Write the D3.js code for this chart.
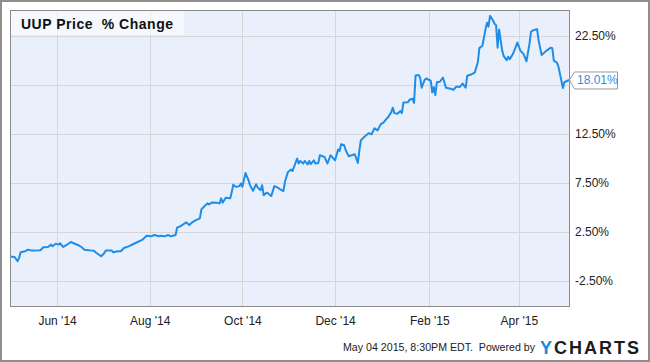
<!DOCTYPE html>
<html>
<head>
<meta charset="utf-8">
<script src="https://cdn.jsdelivr.net/npm/d3@7"></script>
<style>
  html, body { margin: 0; padding: 0; background: #fff; }
  svg { display: block; font-family: "Liberation Sans", Arial, sans-serif; }
</style>
</head>
<body>
<svg id="chart" width="650" height="362"></svg>
<script>
// ---------------- data ----------------
const titleText = "UUP Price\u00a0\u00a0% Change";
const footerText = "May 04 2015, 8:30PM EDT.\u00a0\u00a0Powered by";
const lastLabel = "18.01%";

const dates = [
  "2014-05-01","2014-05-04","2014-05-06","2014-05-07","2014-05-08","2014-05-11","2014-05-13","2014-05-15","2014-05-17","2014-05-21",
  "2014-05-23","2014-05-26","2014-05-28","2014-05-29","2014-05-31","2014-06-02","2014-06-03","2014-06-05","2014-06-07","2014-06-10",
  "2014-06-13","2014-06-15","2014-06-17","2014-06-19","2014-06-22","2014-06-25","2014-06-27","2014-06-30","2014-07-02","2014-07-03",
  "2014-07-07","2014-07-08","2014-07-11","2014-07-13","2014-07-15","2014-07-18","2014-07-21","2014-07-24","2014-07-27","2014-07-30",
  "2014-08-02","2014-08-04","2014-08-07","2014-08-08","2014-08-11","2014-08-13","2014-08-15","2014-08-18","2014-08-19","2014-08-21",
  "2014-08-23","2014-08-25","2014-08-27","2014-08-29","2014-08-31","2014-09-03","2014-09-04","2014-09-05","2014-09-08","2014-09-09",
  "2014-09-11","2014-09-14","2014-09-16","2014-09-17","2014-09-18","2014-09-20","2014-09-23","2014-09-24","2014-09-25","2014-09-26",
  "2014-09-27","2014-09-29","2014-09-30","2014-10-01","2014-10-03","2014-10-05","2014-10-06","2014-10-08","2014-10-10","2014-10-11",
  "2014-10-13","2014-10-14","2014-10-15","2014-10-17","2014-10-18","2014-10-20","2014-10-22","2014-10-24","2014-10-26","2014-10-28",
  "2014-10-29","2014-10-31","2014-11-02","2014-11-03","2014-11-04","2014-11-06","2014-11-07","2014-11-08","2014-11-10","2014-11-11",
  "2014-11-13","2014-11-14","2014-11-15","2014-11-17","2014-11-18","2014-11-20","2014-11-21","2014-11-24","2014-11-26","2014-11-28",
  "2014-11-29","2014-12-01","2014-12-03","2014-12-04","2014-12-05","2014-12-07","2014-12-08","2014-12-10","2014-12-12","2014-12-14",
  "2014-12-16","2014-12-17","2014-12-18","2014-12-20","2014-12-23","2014-12-25","2014-12-27","2014-12-29","2014-12-31","2015-01-02",
  "2015-01-03","2015-01-05","2015-01-07","2015-01-08","2015-01-09","2015-01-11","2015-01-13","2015-01-14","2015-01-15","2015-01-18",
  "2015-01-19","2015-01-21","2015-01-22","2015-01-23","2015-01-25","2015-01-26","2015-01-27","2015-01-29","2015-01-30","2015-02-02",
  "2015-02-03","2015-02-04","2015-02-05","2015-02-06","2015-02-08","2015-02-10","2015-02-12","2015-02-15","2015-02-17","2015-02-19",
  "2015-02-21","2015-02-23","2015-02-24","2015-02-25","2015-02-26","2015-03-01","2015-03-03","2015-03-05","2015-03-06","2015-03-08",
  "2015-03-10","2015-03-11","2015-03-12","2015-03-13","2015-03-15","2015-03-16","2015-03-17","2015-03-18","2015-03-19","2015-03-21",
  "2015-03-22","2015-03-24","2015-03-25","2015-03-26","2015-03-28","2015-03-30","2015-03-31","2015-04-02","2015-04-04","2015-04-06",
  "2015-04-08","2015-04-09","2015-04-11","2015-04-13","2015-04-14","2015-04-16","2015-04-19","2015-04-22","2015-04-23","2015-04-24",
  "2015-04-26","2015-04-27","2015-04-30","2015-05-01","2015-05-04"
];

const pctChange = [
  0.00,-0.05,-0.48,-0.14,0.44,0.54,0.70,0.60,0.60,0.64,
  0.94,0.97,1.21,1.05,1.31,1.21,1.35,0.97,1.15,1.48,
  1.28,1.15,0.97,0.70,0.64,0.60,0.36,0.03,0.33,0.60,
  0.60,0.44,0.54,0.54,0.87,1.03,1.25,1.48,1.69,2.12,
  2.06,2.19,2.06,2.12,2.06,2.19,2.06,2.19,2.94,3.08,
  3.28,3.49,3.21,3.49,3.69,3.89,4.81,4.97,5.42,5.32,
  5.52,5.48,5.42,5.93,5.48,5.99,5.93,6.57,7.33,7.18,
  7.11,7.18,7.45,7.11,8.53,7.79,7.28,6.70,7.38,7.05,
  6.77,7.28,6.26,6.50,6.44,6.16,7.18,7.05,6.84,6.67,
  7.62,8.63,8.88,8.73,9.14,10.00,9.49,9.75,9.49,9.75,
  9.39,9.75,9.42,9.82,9.49,9.55,10.33,10.16,9.49,10.33,
  10.16,9.82,10.91,10.77,11.45,11.35,10.84,10.23,10.33,10.43,
  9.55,10.84,11.86,12.16,12.57,12.47,13.08,12.87,13.48,13.69,
  13.89,14.23,14.73,15.18,14.63,14.57,14.84,14.63,15.72,15.75,
  16.00,16.10,15.67,18.47,18.52,18.26,17.22,18.03,18.16,17.93,
  16.74,17.28,16.46,17.79,17.83,18.26,17.22,17.11,17.01,17.35,
  17.28,17.65,17.42,17.22,18.44,18.60,18.77,19.84,21.26,21.50,
  23.15,23.86,23.45,24.55,24.08,23.74,23.60,21.31,23.15,21.01,
  20.45,20.04,20.38,20.14,20.63,21.42,21.82,21.01,20.67,19.92,
  21.72,22.94,23.11,23.20,22.03,20.55,20.98,21.31,21.26,19.99,
  19.79,19.41,17.18,17.78,18.01
];

const xTickDates = ["2014-06-01","2014-08-01","2014-10-01","2014-12-01","2015-02-01","2015-04-01"];
const yTicks = [-2.5, 2.5, 7.5, 12.5, 17.5, 22.5];
const xDomain = ["2014-05-01","2015-05-04"];
const yDomain = [-5.05, 25.15];

// ---------------- chart ----------------
const parse = d3.timeParse("%Y-%m-%d");
const data = dates.map((d, i) => ({ date: parse(d), value: pctChange[i] }));

const W = 650, H = 362;
const plot = { left: 10, top: 10, right: 569, bottom: 306 };

const svg = d3.select("#chart");

// outer frame
svg.append("rect")
  .attr("x", 1).attr("y", 1).attr("width", W - 2).attr("height", H - 2)
  .attr("fill", "#fff").attr("stroke", "#8e8e8e").attr("stroke-width", 2);

const x = d3.scaleTime().domain(xDomain.map(parse)).range([plot.left, plot.right]);
const y = d3.scaleLinear().domain(yDomain).range([plot.bottom, plot.top]);

// plot background
svg.append("rect")
  .attr("x", plot.left).attr("y", plot.top)
  .attr("width", plot.right - plot.left).attr("height", plot.bottom - plot.top)
  .attr("fill", "#eaf0fb");

// grid
const grid = svg.append("g").attr("stroke", "#d6d6d6").attr("stroke-width", 1);
grid.selectAll("line.h").data(yTicks).join("line")
  .attr("x1", plot.left).attr("x2", plot.right)
  .attr("y1", d => Math.round(y(d)) + 0.5).attr("y2", d => Math.round(y(d)) + 0.5);
grid.selectAll("line.v").data(xTickDates.map(parse)).join("line")
  .attr("y1", plot.top).attr("y2", plot.bottom)
  .attr("x1", d => Math.round(x(d)) + 0.5).attr("x2", d => Math.round(x(d)) + 0.5);

// title box (semi-transparent)
svg.append("rect")
  .attr("x", plot.left).attr("y", plot.top).attr("width", 174).attr("height", 25)
  .attr("fill", "rgba(255,255,255,0.5)");
svg.append("text")
  .attr("x", 21).attr("y", 28.5)
  .attr("font-size", 14).attr("font-weight", "bold").attr("fill", "#111")
  .attr("textLength", 152).attr("lengthAdjust", "spacing")
  .text(titleText);

// line
const line = d3.line().x(d => x(d.date)).y(d => y(d.value));
svg.append("path")
  .datum(data)
  .attr("fill", "none")
  .attr("stroke", "#1f8de8")
  .attr("stroke-width", 2)
  .attr("stroke-linejoin", "round")
  .attr("d", line);

// plot border
svg.append("rect")
  .attr("x", plot.left + 0.5).attr("y", plot.top + 0.5)
  .attr("width", plot.right - plot.left).attr("height", plot.bottom - plot.top)
  .attr("fill", "none").attr("stroke", "#8a8a8a").attr("stroke-width", 1);

// last value marker position
const last = data[data.length - 1];
const lx = x(last.date), ly = y(last.value);
const boxTop = ly - 8.5, boxBot = ly + 8.5;

// y axis labels (right)
const yAxis = d3.axisRight(y)
  .tickValues(yTicks.filter(t => { const p = y(t); return p < boxTop - 6 || p > boxBot + 6; }))
  .tickSize(0).tickPadding(0)
  .tickFormat(d => d.toFixed(2) + "%");
const gy = svg.append("g").attr("transform", `translate(575,0)`).call(yAxis);
gy.select(".domain").remove();
gy.selectAll("text").attr("font-size", 12).attr("fill", "#222")
  .attr("font-family", "Liberation Sans, Arial, sans-serif").attr("x", 0);

// x axis labels
const xAxis = d3.axisBottom(x)
  .tickValues(xTickDates.map(parse))
  .tickSize(0).tickPadding(10)
  .tickFormat(d3.timeFormat("%b '%y"));
const gx = svg.append("g").attr("transform", `translate(0,${plot.bottom})`).call(xAxis);
gx.select(".domain").remove();
gx.selectAll("text").attr("font-size", 12).attr("fill", "#222")
  .attr("font-family", "Liberation Sans, Arial, sans-serif");

// last value label with arrow
const bx = lx + 5, bw = 43;
svg.append("path")
  .attr("d", `M${lx + 0.5},${ly} L${bx + 0.5},${boxTop + 0.5} L${bx + bw + 0.5},${boxTop + 0.5} L${bx + bw + 0.5},${boxBot + 0.5} L${bx + 0.5},${boxBot + 0.5} Z`)
  .attr("fill", "#fff").attr("stroke", "#999").attr("stroke-width", 1);
svg.append("text")
  .attr("x", bx + 3).attr("y", ly + 4.5)
  .attr("font-size", 12).attr("fill", "#2f8fe3")
  .text(lastLabel);

// footer
svg.append("text")
  .attr("x", 343).attr("y", 351)
  .attr("font-size", 11).attr("fill", "#222")
  .attr("textLength", 192).attr("lengthAdjust", "spacingAndGlyphs")
  .text(footerText);
const logo = svg.append("text")
  .attr("x", 540).attr("y", 354)
  .attr("font-size", 18).attr("font-weight", "bold")
  .attr("textLength", 99).attr("lengthAdjust", "spacing");
logo.append("tspan").attr("fill", "#1a8ae0").text("Y");
logo.append("tspan").attr("fill", "#1c1c1c").text("CHARTS");
</script>
</body>
</html>
